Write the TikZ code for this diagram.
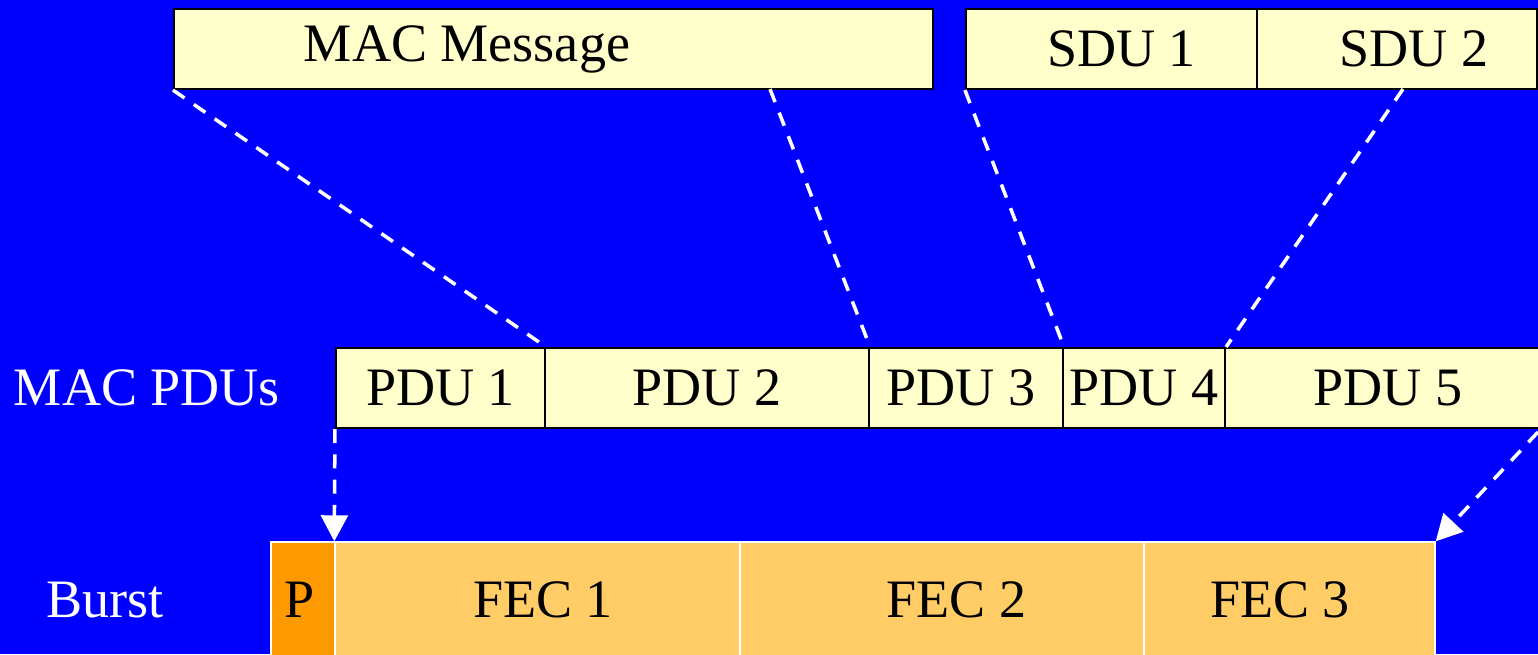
\documentclass[tikz,border=0pt]{standalone}
\usepackage{fontspec}
\setmainfont{Liberation Serif}
\usetikzlibrary{arrows.meta}
\definecolor{bgblue}{HTML}{0000FF}
\definecolor{paleyellow}{HTML}{FFFFCC}
\definecolor{fecorange}{HTML}{FFCC66}
\definecolor{porange}{HTML}{FF9900}
\tikzset{
  boxfont/.style={font=\fontsize{15.4}{18}\selectfont},
  pdubox/.style={draw=black, line width=0.6pt, fill=paleyellow, minimum height=0.8cm,
    inner sep=0pt, boxfont},
  fecbox/.style={draw=white, line width=0.4pt, fill=fecorange, minimum height=1.16cm,
    inner sep=0pt, boxfont},
  sidelabel/.style={text=white, boxfont},
  maplink/.style={white, line width=1pt, dash pattern=on 4pt off 3.2pt},
  maparrow/.style={maplink, -{Triangle[width=7.6pt,length=7.4pt]}}
}
\begin{document}
\begin{tikzpicture}
    \def\yt{-0.49};
    \def\ym{-3.88};
    \def\yb{-6.00};

    \fill[bgblue] (0,0) rectangle (15.38,-6.54);
    \useasboundingbox (0,0) rectangle (15.38,-6.54);

    % upper layer
    \node[pdubox, minimum width=7.59cm,
      label={[boxfont, xshift=-0.865cm]center:MAC Message}] (msg) at (5.535, \yt) {};
    \node[pdubox, minimum width=2.91cm,
      label={[boxfont, xshift=0.1cm]center:SDU 1}] (sdu1) at (11.115, \yt) {};
    \node[pdubox, minimum width=2.80cm,
      label={[boxfont, xshift=0.17cm]center:SDU 2}] (sdu2) at (13.97, \yt) {};

    % MAC PDUs
    \node[sidelabel] (pdulabel) at (1.47, \ym) {MAC PDUs};
    \node[pdubox, minimum width=2.09cm] (pdu1) at (4.405, \ym) {PDU 1};
    \node[pdubox, minimum width=3.24cm] (pdu2) at (7.07, \ym) {PDU 2};
    \node[pdubox, minimum width=1.94cm,
      label={[boxfont, xshift=-0.05cm]center:PDU 3}] (pdu3) at (9.66, \ym) {};
    \node[pdubox, minimum width=1.62cm] (pdu4) at (11.44, \ym) {PDU 4};
    \node[pdubox, minimum width=3.26cm] (pdu5) at (13.88, \ym) {PDU 5};

    % burst
    \node[sidelabel] (burstlabel) at (1.05, \yb) {Burst};
    \node[fecbox, fill=porange, minimum width=0.64cm,
      label={[boxfont, xshift=-0.03cm]center:P}] (p) at (3.03, \yb) {};
    \node[fecbox, minimum width=4.05cm,
      label={[boxfont, xshift=0.055cm]center:FEC 1}] (fec1) at (5.375, \yb) {};
    \node[fecbox, minimum width=4.04cm,
      label={[boxfont, xshift=0.145cm]center:FEC 2}] (fec2) at (9.42, \yb) {};
    \node[fecbox, minimum width=2.91cm,
      label={[boxfont, xshift=-0.095cm]center:FEC 3}] (fec3) at (12.895, \yb) {};

    % mapping
    \coordinate (msgcut) at (7.70, -0.89);
    \coordinate (sducut) at (14.03, -0.89);
    \coordinate (pduend) at (15.38, -4.32);

    \draw[maplink] (msg.south west) -- (pdu1.north east);
    \draw[maplink] (msgcut) -- (pdu2.north east);
    \draw[maplink] (sdu1.south west) -- (pdu3.north east);
    \draw[maplink] (sducut) -- (pdu4.north east);

    \draw[maparrow] (pdu1.south west) -- (fec1.north west);
    \draw[maparrow] (pduend) -- (fec3.north east);
\end{tikzpicture}
\end{document}
